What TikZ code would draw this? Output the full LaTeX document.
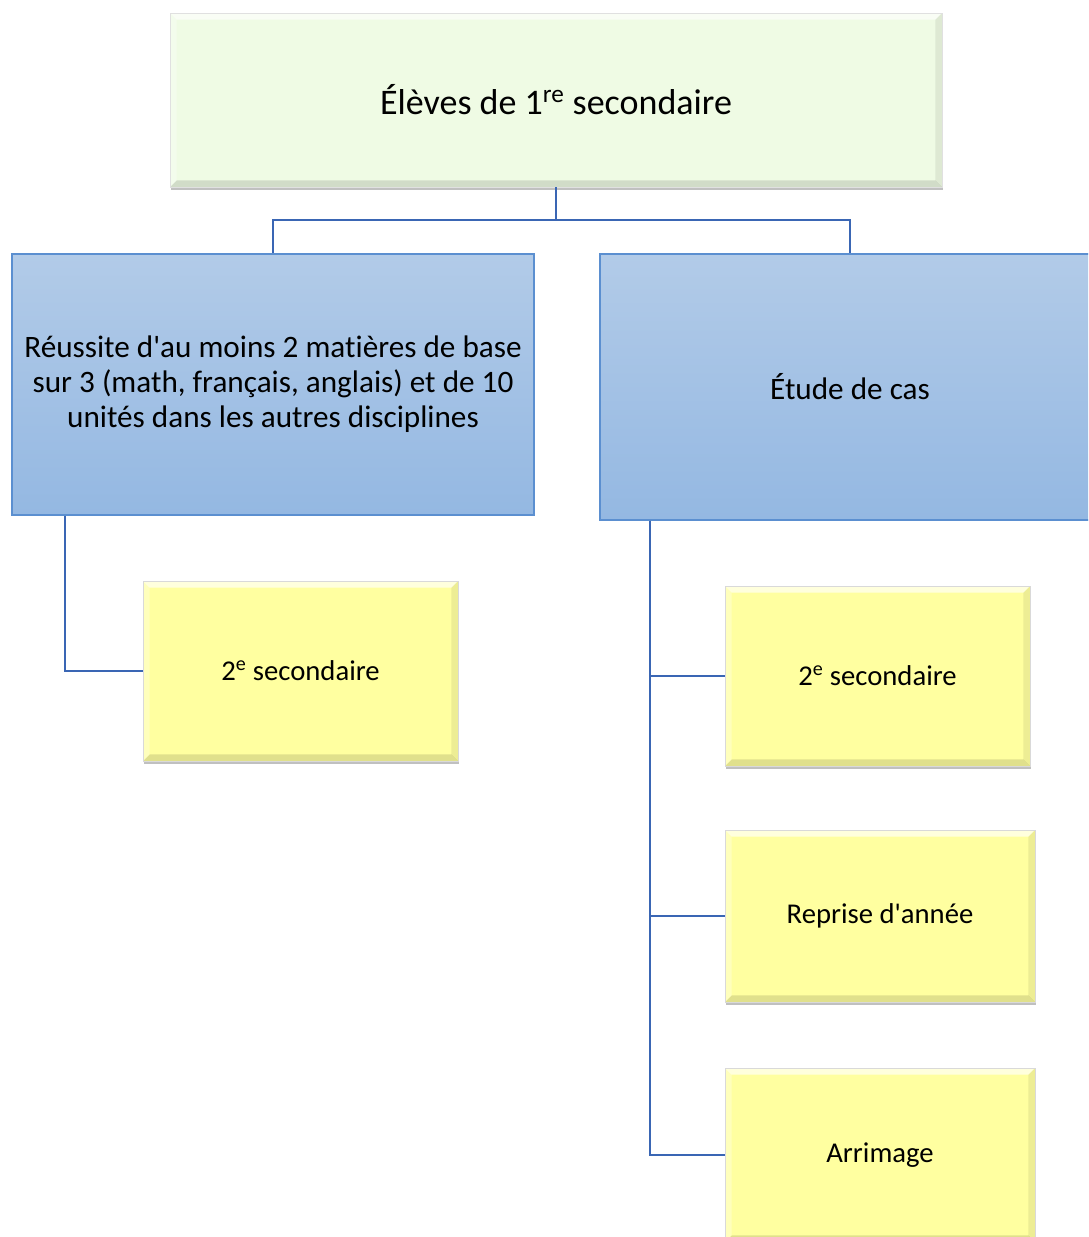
\documentclass[tikz,border=0pt]{standalone}
\usepackage{fontspec}
\setmainfont{Carlito}[Ligatures=NoCommon]
\usepackage{tikz}
\usetikzlibrary{shadows}

\definecolor{topgreen}{RGB}{239,251,228}
\definecolor{boxyellow}{RGB}{255,255,160}
\definecolor{bluetop}{RGB}{178,203,232}
\definecolor{bluebot}{RGB}{148,184,226}
\definecolor{blueedge}{RGB}{91,143,208}
\definecolor{linkblue}{RGB}{58,102,180}

\tikzset{
  bevel/.style={path picture={
      \fill[white,opacity=0.65] (path picture bounding box.north west) -- (path picture bounding box.north east)
        -- ([xshift=-5pt,yshift=-5pt]path picture bounding box.north east) -- ([xshift=5pt,yshift=-5pt]path picture bounding box.north west) -- cycle;
      \fill[black,opacity=0.12] (path picture bounding box.south west) -- (path picture bounding box.south east)
        -- ([xshift=-5pt,yshift=5pt]path picture bounding box.south east) -- ([xshift=5pt,yshift=5pt]path picture bounding box.south west) -- cycle;
      \fill[black,opacity=0.07] (path picture bounding box.north east) -- (path picture bounding box.south east)
        -- ([xshift=-5pt,yshift=5pt]path picture bounding box.south east) -- ([xshift=-5pt,yshift=-5pt]path picture bounding box.north east) -- cycle;
      \fill[white,opacity=0.3] (path picture bounding box.north west) -- (path picture bounding box.south west)
        -- ([xshift=5pt,yshift=5pt]path picture bounding box.south west) -- ([xshift=5pt,yshift=-5pt]path picture bounding box.north west) -- cycle;
    }},
  rootbox/.style={rectangle, fill=topgreen, draw=black!12, bevel, align=center,
    drop shadow={shadow xshift=1pt, shadow yshift=-2.5pt, opacity=0.55, fill=black!45},
    font=\fontsize{27}{31}\selectfont},
  critbox/.style={rectangle, top color=bluetop, bottom color=bluebot, draw=blueedge, line width=0.8pt,
    align=center, font=\fontsize{23.4}{26.3}\selectfont},
  leafbox/.style={rectangle, fill=boxyellow, draw=black!15, bevel, align=center,
    drop shadow={shadow xshift=1pt, shadow yshift=-2.5pt, opacity=0.55, fill=black!45},
    font=\fontsize{21.5}{25}\selectfont},
  link/.style={draw=linkblue, line width=1.9pt}
}

\begin{document}
\begin{tikzpicture}[x=0.75pt,y=0.75pt,yscale=-1,xscale=1]

  \useasboundingbox (0,0) rectangle (1088,1237);
  \clip (0,0) rectangle (1088,1237);

  % Root
  \node[rootbox, minimum width=579pt, minimum height=130.5pt] (root) at (556,100) {Élèves de 1\textsuperscript{re} secondaire};

  % Criteria
  \node[critbox, minimum width=391.5pt, minimum height=195.75pt] (reussite) at (273,384.5)
    {Réussite d\textquotesingle au moins 2 matières de base\\sur 3 (math, français, anglais) et de 10\\unités dans les autres disciplines};
  \node[critbox, minimum width=375pt, minimum height=199.5pt] (etude) at (850,387) {Étude de cas};

  % Outcomes
  \node[leafbox, minimum width=236.25pt, minimum height=135pt] (sec2a) at (300.5,671) {2\textsuperscript{e} secondaire};
  \node[leafbox, minimum width=228.75pt, minimum height=135pt] (sec2b) at (877.5,676) {2\textsuperscript{e} secondaire};
  \node[leafbox, minimum width=232.5pt, minimum height=129pt] (reprise) at (880,916) {Reprise d\textquotesingle année};
  \node[leafbox, minimum width=232.5pt, minimum height=130.5pt] (arrimage) at (880,1155) {Arrimage};

  % Connectors
  \coordinate (split) at (556,220);
  \draw[link] (root.south) -- (split) -| (reussite.north);
  \draw[link] (split) -| (etude.north);
  \draw[link] ([xshift=-156pt]reussite.south) |- (sec2a.west);
  \draw[link] ([xshift=-150pt]etude.south) |- (sec2b.west);
  \draw[link] ([xshift=-150pt]etude.south) |- (reprise.west);
  \draw[link] ([xshift=-150pt]etude.south) |- (arrimage.west);

\end{tikzpicture}
\end{document}
